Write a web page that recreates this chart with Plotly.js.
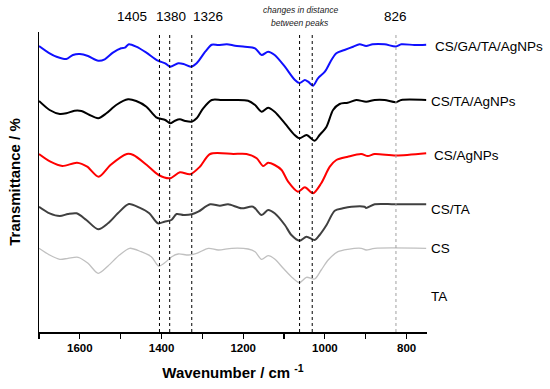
<!DOCTYPE html>
<html>
<head>
<meta charset="utf-8">
<script src="https://cdn.plot.ly/plotly-3.0.1.min.js"></script>
<style>html,body{margin:0;padding:0;background:#fff;}#chart{width:550px;height:389px;}</style>
</head>
<body>
<div id="chart"></div>
<script>
// Wavenumbers (cm-1) and offset transmittance values (arbitrary units)
const wnBlue  = [1700,1674,1657,1633,1617,1600,1580,1555,1539,1519,1499,1490,1480,1462,1437,1409,1391,1379,1359,1346,1328,1314,1293,1277,1261,1240,1220,1196,1171,1155,1139,1123,1098,1074,1062,1049,1041,1029,1017,1000,984,972,952,931,915,899,883,854,826,813,781,752];
const tBlue   = [286,278.7,275.3,273,277,278,276,271.3,272.7,279.3,283.7,284.3,287.7,285.3,279.3,271.3,268.7,265.3,268.7,268,265.3,268.7,280.3,287.3,287,287.7,286.3,285.3,283.7,277,280.3,277,265.3,252.3,249,252,250.3,246.3,253.7,260.3,272,278.7,282,285.3,287.7,286,287.7,287.7,285.5,287.7,287,287.3];

const wnBlack = [1700,1674,1649,1633,1613,1596,1576,1555,1535,1511,1482,1462,1437,1413,1391,1379,1367,1355,1342,1326,1314,1298,1277,1253,1220,1188,1171,1155,1139,1123,1098,1074,1062,1045,1025,1013,996,980,964,944,923,899,878,854,826,813,752];
const tBlack  = [231,222,218,218.7,221.3,221,217,213.7,218.7,227,232.7,231,225.3,214.7,212,208.7,211.3,212.7,211,210.3,213.7,223.7,232,232,232,231.3,227,220.3,224.3,220.3,208.7,197,193.7,197,191.3,197,205.3,222,228,229.3,232,230.3,232,232,229.8,232,232];

const wnRed   = [1700,1672,1643,1607,1582,1554,1525,1485,1469,1436,1407,1379,1355,1330,1306,1281,1224,1192,1167,1151,1139,1123,1106,1090,1066,1049,1029,1009,988,972,944,911,895,878,826,752];
const tRed    = [178,170.3,166,169.3,165.3,155.3,167,178,177,167,157,153.7,159.7,157.7,165.3,178,178,178,173.7,166,169.3,167,162,150.3,140.3,144.7,138.7,148.7,165.3,172,175.3,178,176,178,176.5,178.7];

const wnCSTA  = [1700,1674,1649,1629,1608,1584,1555,1531,1507,1480,1454,1430,1409,1393,1376,1363,1346,1326,1310,1281,1257,1237,1204,1176,1155,1139,1123,1098,1082,1062,1045,1025,1013,996,976,956,935,903,899,878,830,752];
const tCSTA   = [125.3,118.7,116,118,118.7,112,102.7,108.7,118.7,128,124.3,118.7,108.7,110.3,112,118,117,117.7,120.3,127.7,126.3,127.7,123.7,125.3,117,122,118.7,107,97,91.3,95.3,92,97,107,121.3,123.7,125.3,125.3,124,127.7,127.7,127.7];

const wnCS    = [1700,1674,1649,1629,1604,1580,1555,1531,1503,1478,1450,1425,1407,1389,1375,1359,1334,1314,1285,1261,1228,1188,1171,1155,1139,1123,1102,1078,1062,1045,1025,1009,992,968,944,911,899,878,752];
const tCS     = [83.7,77,72.7,73.7,74.7,68.7,58.7,66,77,83.7,80.3,75.3,66,70.3,75.3,78,77,78.7,83.7,82,83.7,83,80.3,72.7,76.3,73,63.7,53.7,49.3,54.7,53,62,72,80.3,82.7,83.7,82,83.7,83.7];

const seriesNames  = ["CS/GA/TA/AgNPs","CS/TA/AgNPs","CS/AgNPs","CS/TA","CS","TA"];
const labelLevels  = [285.3,230.3,176.3,123,83.7,36];
const peakLines    = [1405,1380,1326,1062,1031];
const peakLine826  = [826];
const peakLabels   = ["1405","1380","1326","826"];

const traces = [
  {x: wnBlue,  y: tBlue,  color: "#1010ff", w: 2},
  {x: wnBlack, y: tBlack, color: "#000000", w: 2},
  {x: wnRed,   y: tRed,   color: "#ff0000", w: 2},
  {x: wnCSTA,  y: tCSTA,  color: "#404040", w: 2},
  {x: wnCS,    y: tCS,    color: "#c0c0c0", w: 1.3}
].map((s, i) => ({
  x: s.x, y: s.y, type: "scatter", mode: "lines", name: seriesNames[i],
  line: {color: s.color, width: s.w, shape: "spline", smoothing: 0.8},
  hoverinfo: "skip"
}));

const shapes = peakLines.map(v => ({
  type: "line", xref: "x", yref: "paper", x0: v, x1: v, y0: 0, y1: 1,
  line: {color: "#000", width: 1, dash: "dot"}
})).concat(peakLine826.map(v => ({
  type: "line", xref: "x", yref: "paper", x0: v, x1: v, y0: 0, y1: 1,
  line: {color: "#a0a0a0", width: 1, dash: "dot"}
})));

const font = "Liberation Sans, Arial, sans-serif";
const annotations = [];
const labelX = [1.0147, 1.0059, 1.0118, 1.0059, 1.0059, 1.0059];
seriesNames.forEach((n, i) => annotations.push({
  text: n, xref: "paper", yref: "y", x: labelX[i], y: labelLevels[i],
  xanchor: "left", yanchor: "middle", showarrow: false,
  font: {family: font, size: 13.5, color: "#000"}
}));
const topX = [0.240, 0.340, 0.436, 0.919];
peakLabels.forEach((t, i) => annotations.push({
  text: t, xref: "paper", yref: "paper", x: topX[i], y: 1.05,
  xanchor: "center", yanchor: "middle", showarrow: false,
  font: {family: font, size: 13.5, color: "#000"}
}));
annotations.push({text: "<i>changes in distance</i>", xref: "paper", yref: "paper", x: 0.673, y: 1.073,
  xanchor: "center", yanchor: "middle", showarrow: false, font: {family: font, size: 8.5, color: "#222"}});
annotations.push({text: "<i>between peaks</i>", xref: "paper", yref: "paper", x: 0.673, y: 1.031,
  xanchor: "center", yanchor: "middle", showarrow: false, font: {family: font, size: 8.5, color: "#222"}});

const layout = {
  width: 550, height: 389,
  margin: {l: 38.5, r: 123, t: 32, b: 57},
  paper_bgcolor: "#fff", plot_bgcolor: "#fff",
  showlegend: false,
  xaxis: {
    range: [1700, 750], autorange: false,
    showline: true, linecolor: "#000", linewidth: 1.5,
    showgrid: false, zeroline: false,
    ticks: "outside", ticklen: 5, tickwidth: 1.2, tickcolor: "#000",
    tickmode: "linear", tick0: 800, dtick: 200,
    minor: {ticks: "outside", ticklen: 5, tickwidth: 1.2, tickcolor: "#000", dtick: 100, tick0: 800, showgrid: false},
    tickfont: {family: font, size: 11.5, color: "#000", weight: "bold"},
    title: {text: "Wavenumber / cm <sup>-1</sup>", standoff: 14,
            font: {family: font, size: 15, color: "#000", weight: "bold"}}
  },
  yaxis: {
    range: [0, 300], autorange: false,
    showline: true, linecolor: "#000", linewidth: 1.5,
    showgrid: false, zeroline: false, showticklabels: false, ticks: "",
    title: {text: "Transmittance / %", standoff: 13,
            font: {family: font, size: 15, color: "#000", weight: "bold"}}
  },
  shapes: shapes,
  annotations: annotations
};

Plotly.newPlot("chart", traces, layout, {staticPlot: true, displayModeBar: false});
</script>
</body>
</html>
